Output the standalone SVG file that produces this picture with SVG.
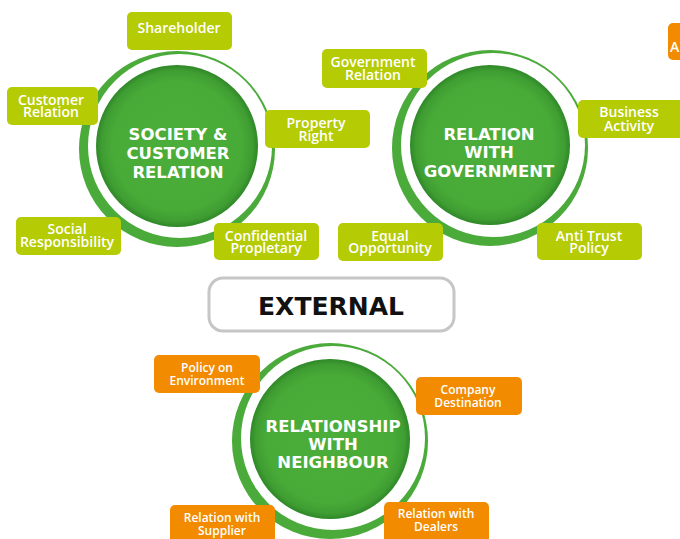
<svg xmlns="http://www.w3.org/2000/svg" width="680" height="539" viewBox="0 0 680 539">
<defs>
<radialGradient id="core" cx="50%" cy="50%" r="50%">
<stop offset="0" stop-color="#4cae3a"/>
<stop offset="0.8" stop-color="#48aa37"/>
<stop offset="0.93" stop-color="#3f9d32"/>
<stop offset="1" stop-color="#2f8828"/>
</radialGradient>
<style>
.ring{fill:#4aaa3a}
.gap{fill:#ffffff}
.core{fill:url(#core)}
.lime{fill:#b5cb04}
.orange{fill:#f28b00}
.ct{font-family:"DejaVu Sans",sans-serif;font-weight:bold;font-size:16.5px;fill:#ffffff;text-anchor:middle}
.bt{font-family:"Open Sans",sans-serif;font-weight:600;font-size:14px;fill:#ffffff;text-anchor:middle}
.ot{font-family:"Open Sans",sans-serif;font-weight:600;font-size:12px;fill:#ffffff;text-anchor:middle}
.ext{font-family:"DejaVu Sans",sans-serif;font-weight:bold;font-size:25px;fill:#111111;text-anchor:middle}
</style>
</defs>
<rect width="680" height="539" fill="#ffffff"/>
<g id="connectors"></g>

<g id="hub-society">
<circle class="ring" cx="177" cy="149" r="98"/>
<circle class="gap" cx="180" cy="146" r="92"/>
<circle class="core" cx="177" cy="146" r="81"/>
<text class="ct" x="178" y="140">SOCIETY &amp;</text>
<text class="ct" x="178" y="159">CUSTOMER</text>
<text class="ct" x="178" y="178">RELATION</text>
</g>

<g id="hub-government">
<circle class="ring" cx="490" cy="148" r="98"/>
<circle class="gap" cx="493" cy="145" r="92"/>
<circle class="core" cx="490" cy="145" r="80"/>
<text class="ct" x="489" y="140">RELATION</text>
<text class="ct" x="489" y="158">WITH</text>
<text class="ct" x="489" y="177">GOVERNMENT</text>
</g>

<g id="hub-neighbour">
<circle class="ring" cx="330" cy="441" r="98"/>
<circle class="gap" cx="333" cy="438" r="92"/>
<circle class="core" cx="330" cy="439" r="80"/>
<text class="ct" x="333" y="432">RELATIONSHIP</text>
<text class="ct" x="333" y="450">WITH</text>
<text class="ct" x="333" y="468">NEIGHBOUR</text>
</g>

<g id="external">
<rect x="209" y="278" width="245" height="53" rx="14" fill="#ffffff" stroke="#c6c6c6" stroke-width="3"/>
<text class="ext" x="331" y="315">EXTERNAL</text>
</g>

<g id="shareholder"><rect class="lime" x="127" y="12" width="105" height="38" rx="5"/><text class="bt" x="179" y="33">Shareholder</text></g>
<g id="customer-relation"><rect class="lime" x="7" y="87" width="91" height="38" rx="5"/><text class="bt" x="51" y="105">Customer</text><text class="bt" x="51" y="117">Relation</text></g>
<g id="property-right"><rect class="lime" x="265" y="110" width="105" height="38" rx="5"/><text class="bt" x="316" y="128">Property</text><text class="bt" x="316" y="141">Right</text></g>
<g id="social-responsibility"><rect class="lime" x="16" y="217" width="105" height="38" rx="5"/><text class="bt" x="67" y="234">Social</text><text class="bt" x="67" y="247">Responsibility</text></g>
<g id="confidential"><rect class="lime" x="214" y="223" width="105" height="37" rx="5"/><text class="bt" x="266" y="241">Confidential</text><text class="bt" x="266" y="253">Propletary</text></g>
<g id="government-relation"><rect class="lime" x="322" y="49" width="105" height="39" rx="5"/><text class="bt" x="373" y="67">Government</text><text class="bt" x="373" y="80">Relation</text></g>
<g id="business-activity"><rect class="lime" x="578" y="100" width="106" height="38" rx="5"/><text class="bt" x="629" y="117">Business</text><text class="bt" x="629" y="131">Activity</text></g>
<g id="equal-opportunity"><rect class="lime" x="338" y="223" width="105" height="38" rx="5"/><text class="bt" x="390" y="241">Equal</text><text class="bt" x="390" y="253">Opportunity</text></g>
<g id="anti-trust"><rect class="lime" x="537" y="223" width="105" height="37" rx="5"/><text class="bt" x="589" y="241">Anti Trust</text><text class="bt" x="589" y="253">Policy</text></g>

<g id="policy-environment"><rect class="orange" x="154" y="355" width="106" height="38" rx="5"/><text class="ot" x="207" y="372">Policy on</text><text class="ot" x="207" y="385">Environment</text></g>
<g id="company-destination"><rect class="orange" x="416" y="377" width="106" height="38" rx="5"/><text class="ot" x="468" y="394">Company</text><text class="ot" x="468" y="407">Destination</text></g>
<g id="relation-supplier"><rect class="orange" x="170" y="505" width="105" height="40" rx="5"/><text class="ot" x="222" y="522">Relation with</text><text class="ot" x="222" y="535">Supplier</text></g>
<g id="relation-dealers"><rect class="orange" x="384" y="502" width="105" height="42" rx="5"/><text class="ot" x="436" y="518">Relation with</text><text class="ot" x="436" y="531">Dealers</text></g>
<g id="cut-off-box"><rect class="orange" x="668" y="23" width="30" height="37" rx="5"/><text class="bt" x="670" y="52" style="text-anchor:start">A</text></g>
</svg>
